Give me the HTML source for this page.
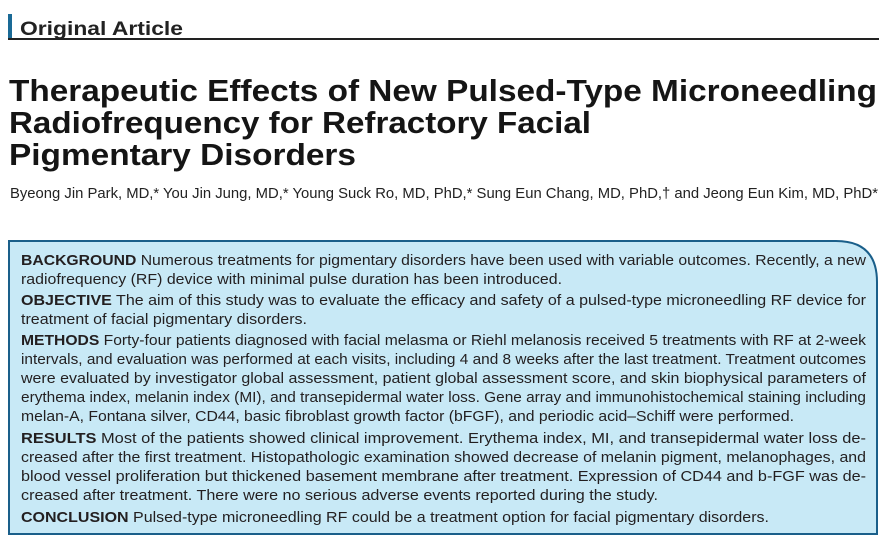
<!DOCTYPE html>
<html><head><meta charset="utf-8"><style>
html,body{margin:0;padding:0;background:#fff;}
svg{display:block;font-family:"Liberation Sans",sans-serif;}
</style></head><body>
<svg width="888" height="551" viewBox="0 0 888 551">
<rect x="8" y="14" width="4" height="25" fill="#1a6a96"/>
<text x="20" y="35" font-size="19" font-weight="bold" fill="#222" textLength="163" lengthAdjust="spacingAndGlyphs">Original Article</text>
<rect x="8" y="38" width="871" height="2" fill="#222"/>

<g font-size="31" font-weight="bold" fill="#151515">
<text x="9" y="101" textLength="868" lengthAdjust="spacingAndGlyphs">Therapeutic Effects of New Pulsed-Type Microneedling</text>
<text x="9" y="133" textLength="582" lengthAdjust="spacingAndGlyphs">Radiofrequency for Refractory Facial</text>
<text x="9" y="165" textLength="347" lengthAdjust="spacingAndGlyphs">Pigmentary Disorders</text>
</g>
<text x="10" y="198" font-size="14.5" fill="#222" textLength="868" lengthAdjust="spacingAndGlyphs">Byeong Jin Park, MD,* You Jin Jung, MD,* Young Suck Ro, MD, PhD,* Sung Eun Chang, MD, PhD,† and Jeong Eun Kim, MD, PhD*</text>

<path d="M9 241 H836 Q877 241 877 282 V534 H9 Z" fill="#c8e9f6" stroke="#1a5f8a" stroke-width="2"/>

<g font-size="15" fill="#231f20">
<text x="21" y="265" textLength="845" lengthAdjust="spacingAndGlyphs"><tspan font-weight="bold">BACKGROUND</tspan> Numerous treatments for pigmentary disorders have been used with variable outcomes. Recently, a new</text>
<text x="21" y="284" textLength="541" lengthAdjust="spacingAndGlyphs">radiofrequency (RF) device with minimal pulse duration has been introduced.</text>
<text x="21" y="305" textLength="845" lengthAdjust="spacingAndGlyphs"><tspan font-weight="bold">OBJECTIVE</tspan> The aim of this study was to evaluate the efficacy and safety of a pulsed-type microneedling RF device for</text>
<text x="21" y="324" textLength="286" lengthAdjust="spacingAndGlyphs">treatment of facial pigmentary disorders.</text>
<text x="21" y="345" textLength="845" lengthAdjust="spacingAndGlyphs"><tspan font-weight="bold">METHODS</tspan> Forty-four patients diagnosed with facial melasma or Riehl melanosis received 5 treatments with RF at 2-week</text>
<text x="21" y="364" textLength="845" lengthAdjust="spacingAndGlyphs">intervals, and evaluation was performed at each visits, including 4 and 8 weeks after the last treatment. Treatment outcomes</text>
<text x="21" y="383" textLength="845" lengthAdjust="spacingAndGlyphs">were evaluated by investigator global assessment, patient global assessment score, and skin biophysical parameters of</text>
<text x="21" y="402" textLength="845" lengthAdjust="spacingAndGlyphs">erythema index, melanin index (MI), and transepidermal water loss. Gene array and immunohistochemical staining including</text>
<text x="21" y="421" textLength="773" lengthAdjust="spacingAndGlyphs">melan-A, Fontana silver, CD44, basic fibroblast growth factor (bFGF), and periodic acid–Schiff were performed.</text>
<text x="21" y="443" textLength="845" lengthAdjust="spacingAndGlyphs"><tspan font-weight="bold">RESULTS</tspan> Most of the patients showed clinical improvement. Erythema index, MI, and transepidermal water loss de-</text>
<text x="21" y="462" textLength="845" lengthAdjust="spacingAndGlyphs">creased after the first treatment. Histopathologic examination showed decrease of melanin pigment, melanophages, and</text>
<text x="21" y="481" textLength="845" lengthAdjust="spacingAndGlyphs">blood vessel proliferation but thickened basement membrane after treatment. Expression of CD44 and b-FGF was de-</text>
<text x="21" y="500" textLength="637" lengthAdjust="spacingAndGlyphs">creased after treatment. There were no serious adverse events reported during the study.</text>
<text x="21" y="522" textLength="748" lengthAdjust="spacingAndGlyphs"><tspan font-weight="bold">CONCLUSION</tspan> Pulsed-type microneedling RF could be a treatment option for facial pigmentary disorders.</text>
</g>
</svg>
</body></html>
